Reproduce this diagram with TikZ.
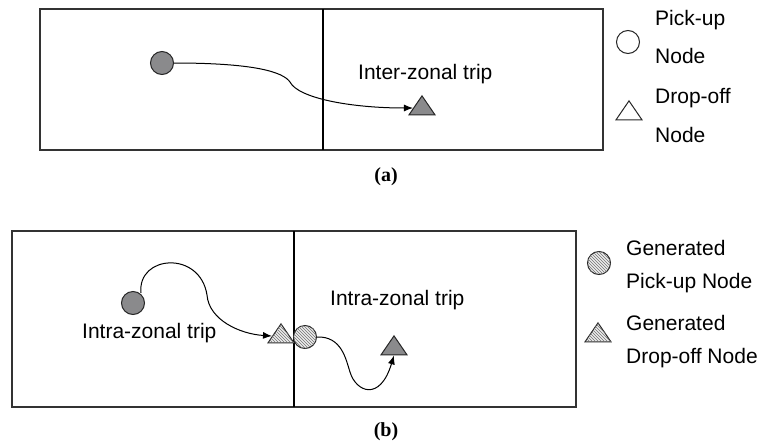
\documentclass[tikz,border=0pt]{standalone}
\usepackage{fontspec}
\setmainfont{Liberation Sans}
\newfontfamily\capfont{Liberation Serif}
\usetikzlibrary{shapes.geometric,arrows.meta,patterns}
\definecolor{nodegray}{RGB}{138,138,140}
\begin{document}
\begin{tikzpicture}[x=1pt,y=-1pt,
  box/.style={draw=black!80,line width=1.5pt},
  divider/.style={draw=black,line width=1.1pt},
  pickdark/.style={circle,draw=black!85,line width=1pt,fill=nodegray,minimum size=23pt,inner sep=0pt},
  pickhatch/.style={circle,draw=black!85,line width=1pt,fill=gray!15,postaction={pattern=north west lines,pattern color=black!55},minimum size=23pt,inner sep=0pt},
  pickwhite/.style={circle,draw=black!85,line width=1pt,fill=white,minimum size=23pt,inner sep=0pt},
  tri/.style={isosceles triangle,shape border rotate=90,isosceles triangle stretches,minimum width=26pt,minimum height=19pt,inner sep=0pt,draw=black!85,line width=1pt},
  dropdark/.style={tri,fill=nodegray},
  drophatch/.style={tri,fill=gray!15,postaction={pattern=north west lines,pattern color=black!55}},
  dropwhite/.style={tri,fill=white},
  trip/.style={draw=black,line width=1pt,-{Latex[length=9pt,width=7pt]}},
  lbl/.style={font=\fontsize{21}{25}\selectfont,inner sep=0pt,anchor=west},
  captxt/.style={font=\capfont\bfseries\fontsize{20}{24}\selectfont,inner sep=0pt}
]
\useasboundingbox (0,0) rectangle (761,445);

% ---- (a) ----
\draw[box] (40,9) rectangle (603,150);
\draw[divider] (323,9) -- (323,150);
\node[pickdark] (a1) at (162,63) {};
\node[dropdark] (a2) at (422,108) {};
\draw[trip] (a1.east) .. controls (255,63) and (283,72) .. (290,82)
  .. controls (298,98) and (350,108) .. (a2.west);
\node[lbl] (alab) at (358,74) {Inter-zonal trip};

\node[pickwhite] (lg1) at (628,42) {};
\node[lbl] (lg1a) at (655,20) {Pick-up};
\node[lbl] (lg1b) at (655,56) {Node};
\node[dropwhite] (lg2) at (629,113) {};
\node[lbl] (lg2a) at (655,98) {Drop-off};
\node[lbl] (lg2b) at (655,135) {Node};

\node[captxt] (capa) at (386,177) {(a)};

% ---- (b) ----
\draw[box] (12,231) rectangle (576,407);
\draw[divider] (294,231) -- (294,407);
\node[pickdark] (b1) at (133,303) {};
\node[drophatch] (b2) at (281,336) {};
\node[pickhatch] (b3) at (305,337) {};
\node[dropdark] (b4) at (394,348) {};
\draw[trip] (b1.north) ++(8,2) coordinate (b1s)
  .. controls (137,255) and (200,250) .. (207,295)
  .. controls (209,320) and (240,334) .. (b2.west);
\draw[trip] (b3.east) .. controls (342,336) and (346,360) .. (350,372)
  .. controls (356,392) and (380,402) .. (b4.south);
\node[lbl] (blab1) at (82,333) {Intra-zonal trip};
\node[lbl] (blab2) at (330,300) {Intra-zonal trip};

\node[pickhatch] (lg3) at (599,263) {};
\node[lbl] (lg3a) at (626,248) {Generated};
\node[lbl] (lg3b) at (626,283) {Pick-up Node};
\node[drophatch] (lg4) at (598,335) {};
\node[lbl] (lg4a) at (626,323) {Generated};
\node[lbl] (lg4b) at (626,358) {Drop-off Node};

\node[captxt] (capb) at (386,432) {(b)};
\end{tikzpicture}
\end{document}
